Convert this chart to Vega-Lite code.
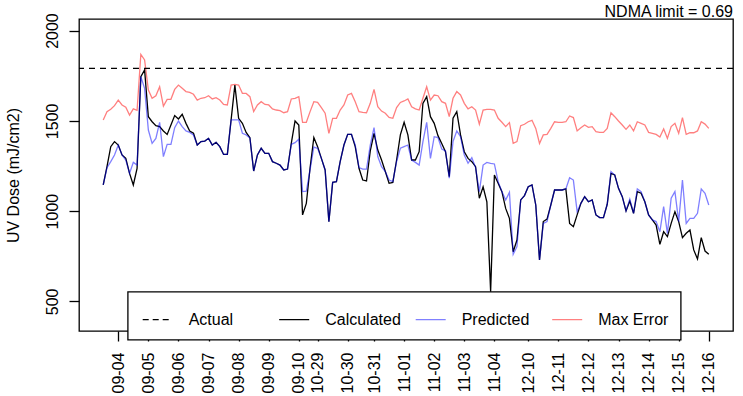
{
 "$schema": "https://vega.github.io/schema/vega-lite/v6.json",
 "width": 654, "height": 312,
 "autosize": "none",
 "padding": {"left": 79, "top": 19, "right": 10, "bottom": 65},
 "background": "white",
 "config": {"view": {"stroke": "black", "strokeWidth": 1.3}, "font": "Liberation Sans", "axis": {"labelOverlap": false}},
 "title": {"text": "NDMA limit = 0.69", "anchor": "end", "frame": "group", "fontSize": 16, "fontWeight": "normal", "font": "Liberation Sans", "color": "black", "offset": 0, "dy": 20, "baseline": "alphabetic"},
 "data": {"values": [
{"i":0,"calc":1145,"pred":1145,"err":1505},{"i":1,"calc":1246,"pred":1240,"err":1551},{"i":2,"calc":1357,"pred":1274,"err":1564},{"i":3,"calc":1385,"pred":1311,"err":1584},{"i":4,"calc":1366,"pred":1366,"err":1615},{"i":5,"calc":1311,"pred":1311,"err":1588},{"i":6,"calc":1292,"pred":1283,"err":1575},{"i":7,"calc":1209,"pred":1209,"err":1532},{"i":8,"calc":1145,"pred":1270,"err":1566},{"i":9,"calc":1237,"pred":1255,"err":1558},
{"i":10,"calc":1745,"pred":1745,"err":1868},{"i":11,"calc":1782,"pred":1680,"err":1837},{"i":12,"calc":1523,"pred":1449,"err":1671},{"i":13,"calc":1495,"pred":1375,"err":1625},{"i":14,"calc":1473,"pred":1403,"err":1639},{"i":15,"calc":1468,"pred":1492,"err":1689},{"i":16,"calc":1444,"pred":1302,"err":1582},{"i":17,"calc":1425,"pred":1370,"err":1619},{"i":18,"calc":1477,"pred":1370,"err":1619},{"i":19,"calc":1529,"pred":1462,"err":1674},
{"i":20,"calc":1510,"pred":1499,"err":1698},{"i":21,"calc":1536,"pred":1468,"err":1680},{"i":22,"calc":1486,"pred":1444,"err":1662},{"i":23,"calc":1444,"pred":1436,"err":1658},{"i":24,"calc":1431,"pred":1422,"err":1647},{"i":25,"calc":1366,"pred":1366,"err":1615},{"i":26,"calc":1385,"pred":1385,"err":1625},{"i":27,"calc":1388,"pred":1388,"err":1628},{"i":28,"calc":1403,"pred":1403,"err":1639},{"i":29,"calc":1366,"pred":1366,"err":1621},
{"i":30,"calc":1381,"pred":1381,"err":1628},{"i":31,"calc":1357,"pred":1357,"err":1615},{"i":32,"calc":1314,"pred":1314,"err":1591},{"i":33,"calc":1314,"pred":1314,"err":1588},{"i":34,"calc":1505,"pred":1505,"err":1698},{"i":35,"calc":1698,"pred":1505,"err":1702},{"i":36,"calc":1514,"pred":1505,"err":1698},{"i":37,"calc":1486,"pred":1431,"err":1652},{"i":38,"calc":1436,"pred":1422,"err":1652},{"i":39,"calc":1407,"pred":1405,"err":1634},
{"i":40,"calc":1222,"pred":1222,"err":1551},{"i":41,"calc":1311,"pred":1311,"err":1588},{"i":42,"calc":1348,"pred":1348,"err":1606},{"i":43,"calc":1320,"pred":1320,"err":1591},{"i":44,"calc":1320,"pred":1320,"err":1588},{"i":45,"calc":1274,"pred":1274,"err":1566},{"i":46,"calc":1265,"pred":1265,"err":1560},{"i":47,"calc":1255,"pred":1255,"err":1556},{"i":48,"calc":1228,"pred":1228,"err":1545},{"i":49,"calc":1233,"pred":1233,"err":1551},
{"i":50,"calc":1375,"pred":1370,"err":1621},{"i":51,"calc":1499,"pred":1379,"err":1625},{"i":52,"calc":1477,"pred":1398,"err":1634},{"i":53,"calc":979,"pred":1108,"err":1492},{"i":54,"calc":1043,"pred":1110,"err":1492},{"i":55,"calc":1240,"pred":1230,"err":1551},{"i":56,"calc":1408,"pred":1355,"err":1606},{"i":57,"calc":1357,"pred":1348,"err":1602},{"i":58,"calc":1292,"pred":1292,"err":1573},{"i":59,"calc":1228,"pred":1228,"err":1542},
{"i":60,"calc":942,"pred":942,"err":1431},{"i":61,"calc":1159,"pred":1159,"err":1514},{"i":62,"calc":1163,"pred":1163,"err":1514},{"i":63,"calc":1274,"pred":1274,"err":1560},{"i":64,"calc":1366,"pred":1366,"err":1588},{"i":65,"calc":1425,"pred":1425,"err":1643},{"i":66,"calc":1425,"pred":1425,"err":1652},{"i":67,"calc":1357,"pred":1366,"err":1606},{"i":68,"calc":1237,"pred":1241,"err":1551},{"i":69,"calc":1172,"pred":1233,"err":1547},
{"i":70,"calc":1167,"pred":1233,"err":1545},{"i":71,"calc":1333,"pred":1366,"err":1597},{"i":72,"calc":1431,"pred":1462,"err":1674},{"i":73,"calc":1338,"pred":1302,"err":1578},{"i":74,"calc":1283,"pred":1246,"err":1554},{"i":75,"calc":1219,"pred":1219,"err":1542},{"i":76,"calc":1154,"pred":1172,"err":1519},{"i":77,"calc":1159,"pred":1163,"err":1514},{"i":78,"calc":1283,"pred":1274,"err":1573},{"i":79,"calc":1422,"pred":1348,"err":1602},
{"i":80,"calc":1492,"pred":1357,"err":1610},{"i":81,"calc":1422,"pred":1366,"err":1621},{"i":82,"calc":1283,"pred":1283,"err":1578},{"i":83,"calc":1283,"pred":1270,"err":1566},{"i":84,"calc":1329,"pred":1255,"err":1560},{"i":85,"calc":1597,"pred":1385,"err":1625},{"i":86,"calc":1634,"pred":1492,"err":1689},{"i":87,"calc":1523,"pred":1292,"err":1615},{"i":88,"calc":1486,"pred":1412,"err":1643},{"i":89,"calc":1418,"pred":1407,"err":1639},
{"i":90,"calc":1375,"pred":1344,"err":1606},{"i":91,"calc":1329,"pred":1333,"err":1597},{"i":92,"calc":1191,"pred":1182,"err":1523},{"i":93,"calc":1514,"pred":1385,"err":1625},{"i":94,"calc":1551,"pred":1444,"err":1662},{"i":95,"calc":1422,"pred":1412,"err":1643},{"i":96,"calc":1329,"pred":1311,"err":1597},{"i":97,"calc":1292,"pred":1265,"err":1566},{"i":98,"calc":1274,"pred":1296,"err":1578},{"i":99,"calc":1246,"pred":1241,"err":1560},
{"i":100,"calc":1071,"pred":1108,"err":1481},{"i":101,"calc":1135,"pred":1255,"err":1560},{"i":102,"calc":1052,"pred":1270,"err":1564},{"i":103,"calc":554,"pred":1265,"err":1564},{"i":104,"calc":1200,"pred":1261,"err":1560},{"i":105,"calc":1154,"pred":1163,"err":1514},{"i":106,"calc":1108,"pred":1108,"err":1492},{"i":107,"calc":1015,"pred":1062,"err":1468},{"i":108,"calc":960,"pred":1104,"err":1490},{"i":109,"calc":775,"pred":761,"err":1375},
{"i":110,"calc":840,"pred":803,"err":1385},{"i":111,"calc":1062,"pred":1062,"err":1473},{"i":112,"calc":1086,"pred":1086,"err":1481},{"i":113,"calc":1135,"pred":1135,"err":1495},{"i":114,"calc":1145,"pred":1145,"err":1503},{"i":115,"calc":1034,"pred":1034,"err":1458},{"i":116,"calc":729,"pred":729,"err":1375},{"i":117,"calc":942,"pred":932,"err":1422},{"i":118,"calc":956,"pred":942,"err":1425},{"i":119,"calc":1034,"pred":1034,"err":1458},
{"i":120,"calc":1117,"pred":1117,"err":1495},{"i":121,"calc":1117,"pred":1117,"err":1492},{"i":122,"calc":1117,"pred":1117,"err":1492},{"i":123,"calc":1123,"pred":1123,"err":1495},{"i":124,"calc":932,"pred":1185,"err":1527},{"i":125,"calc":914,"pred":1172,"err":1518},{"i":126,"calc":979,"pred":997,"err":1444},{"i":127,"calc":1043,"pred":1043,"err":1462},{"i":128,"calc":1080,"pred":1080,"err":1477},{"i":129,"calc":1052,"pred":1052,"err":1464},
{"i":130,"calc":1062,"pred":1062,"err":1468},{"i":131,"calc":979,"pred":979,"err":1440},{"i":132,"calc":964,"pred":964,"err":1436},{"i":133,"calc":964,"pred":964,"err":1436},{"i":134,"calc":1038,"pred":1038,"err":1458},{"i":135,"calc":1209,"pred":1219,"err":1545},{"i":136,"calc":1200,"pred":1200,"err":1523},{"i":137,"calc":1126,"pred":1126,"err":1499},{"i":138,"calc":1080,"pred":1080,"err":1477},{"i":139,"calc":1001,"pred":1001,"err":1453},
{"i":140,"calc":1056,"pred":1067,"err":1477},{"i":141,"calc":988,"pred":988,"err":1444},{"i":142,"calc":1108,"pred":1123,"err":1495},{"i":143,"calc":1099,"pred":1108,"err":1486},{"i":144,"calc":1052,"pred":1052,"err":1477},{"i":145,"calc":979,"pred":979,"err":1436},{"i":146,"calc":951,"pred":951,"err":1431},{"i":147,"calc":923,"pred":942,"err":1425},{"i":148,"calc":816,"pred":886,"err":1410},{"i":149,"calc":886,"pred":1025,"err":1455},
{"i":150,"calc":859,"pred":877,"err":1403},{"i":151,"calc":932,"pred":1071,"err":1468},{"i":152,"calc":997,"pred":1108,"err":1486},{"i":153,"calc":942,"pred":942,"err":1431},{"i":154,"calc":853,"pred":1172,"err":1518},{"i":155,"calc":877,"pred":932,"err":1425},{"i":156,"calc":895,"pred":960,"err":1434},{"i":157,"calc":785,"pred":960,"err":1434},{"i":158,"calc":735,"pred":988,"err":1444},{"i":159,"calc":853,"pred":1123,"err":1495},
{"i":160,"calc":779,"pred":1099,"err":1482},{"i":161,"calc":761,"pred":1034,"err":1458}
 ]},
 "layer": [
  {"mark": {"type": "line", "strokeWidth": 1.3},
   "encoding": {
    "x": {"field": "i", "type": "quantitative", "title": null,
      "scale": {"domain": [-6.44, 167.44], "nice": false, "zero": false},
      "axis": {"values": [4,12,20,28,36,44,52,57,65,72,80,88,96,104,113,121,129,137,145,153,161], "tickCount": 40,
        "labelExpr": "['09-04','09-05','09-06','09-07','09-08','09-09','09-10','10-29','10-30','10-31','11-01','11-02','11-03','11-04','12-10','12-11','12-12','12-13','12-14','12-15','12-16'][indexof([4,12,20,28,36,44,52,57,65,72,80,88,96,104,113,121,129,137,145,153,161], datum.value)]",
        "labelAngle": 270, "labelAlign": "right", "labelBaseline": "middle", "labelPadding": 11,
        "labelOverlap": false, "labelFlush": false, "labelBound": false,
        "tickSize": 10, "tickColor": "black", "tickWidth": 1.3, "domain": false, "grid": false,
        "labelFontSize": 16, "labelFont": "Liberation Sans", "labelColor": "black"}},
    "y": {"field": "err", "type": "quantitative", "title": "UV Dose (mJ/cm2)",
      "scale": {"domain": [336, 2064], "nice": false, "zero": false},
      "axis": {"values": [500,1000,1500,2000], "format": "d", "labelAngle": 270, "labelAlign": "center", "labelBaseline": "alphabetic",
        "labelPadding": 12, "tickSize": 10, "tickColor": "black", "tickWidth": 1.3, "domain": false, "grid": false,
        "labelFontSize": 16, "labelFont": "Liberation Sans", "labelColor": "black",
        "titleFontSize": 16, "titleFont": "Liberation Sans", "titleFontWeight": "normal", "titleColor": "black",
        "titleAngle": 270, "titleX": -61, "titleY": 156, "titleAlign": "center", "titleBaseline": "alphabetic"}},
    "color": {"datum": "Max Error",
      "scale": {"domain": ["Actual","Calculated","Predicted","Max Error"], "range": ["black","black","rgba(0,0,255,0.5)","rgba(255,0,0,0.5)"]},
      "legend": {"title": null, "orient": "none", "legendX": 48.7, "legendY": 272.7, "direction": "horizontal",
        "columns": 4, "gridAlign": "all", "symbolType": "stroke", "symbolSize": 900, "symbolStrokeWidth": 1.3,
        "labelFontSize": 16, "labelFont": "Liberation Sans", "labelColor": "black", "labelOffset": 15, "labelLimit": 200,
        "columnPadding": 11.5, "padding": 12, "symbolOffset": 2, "strokeColor": "black", "fillColor": "white",
        "encode": {"legend": {"update": {"strokeWidth": {"value": 1.3}}},
                   "symbols": {"update": {"strokeDash": {"signal": "datum.value === 'Actual' ? [6,4] : [1,0]"}}}}}}
   }},
  {"mark": {"type": "line", "strokeWidth": 1.3},
   "encoding": {"x": {"field": "i", "type": "quantitative", "title": null},
     "y": {"field": "calc", "type": "quantitative", "title": "UV Dose (mJ/cm2)"},
     "color": {"datum": "Calculated"}}},
  {"mark": {"type": "line", "strokeWidth": 1.3},
   "encoding": {"x": {"field": "i", "type": "quantitative", "title": null},
     "y": {"field": "pred", "type": "quantitative", "title": "UV Dose (mJ/cm2)"},
     "color": {"datum": "Predicted"}}},
  {"data": {"values": [{"actual": 1790}]},
   "mark": {"type": "rule", "strokeDash": [6,5], "strokeWidth": 1.3},
   "encoding": {"y": {"field": "actual", "type": "quantitative", "title": "UV Dose (mJ/cm2)"},
     "color": {"datum": "Actual"}}}
 ]
}
